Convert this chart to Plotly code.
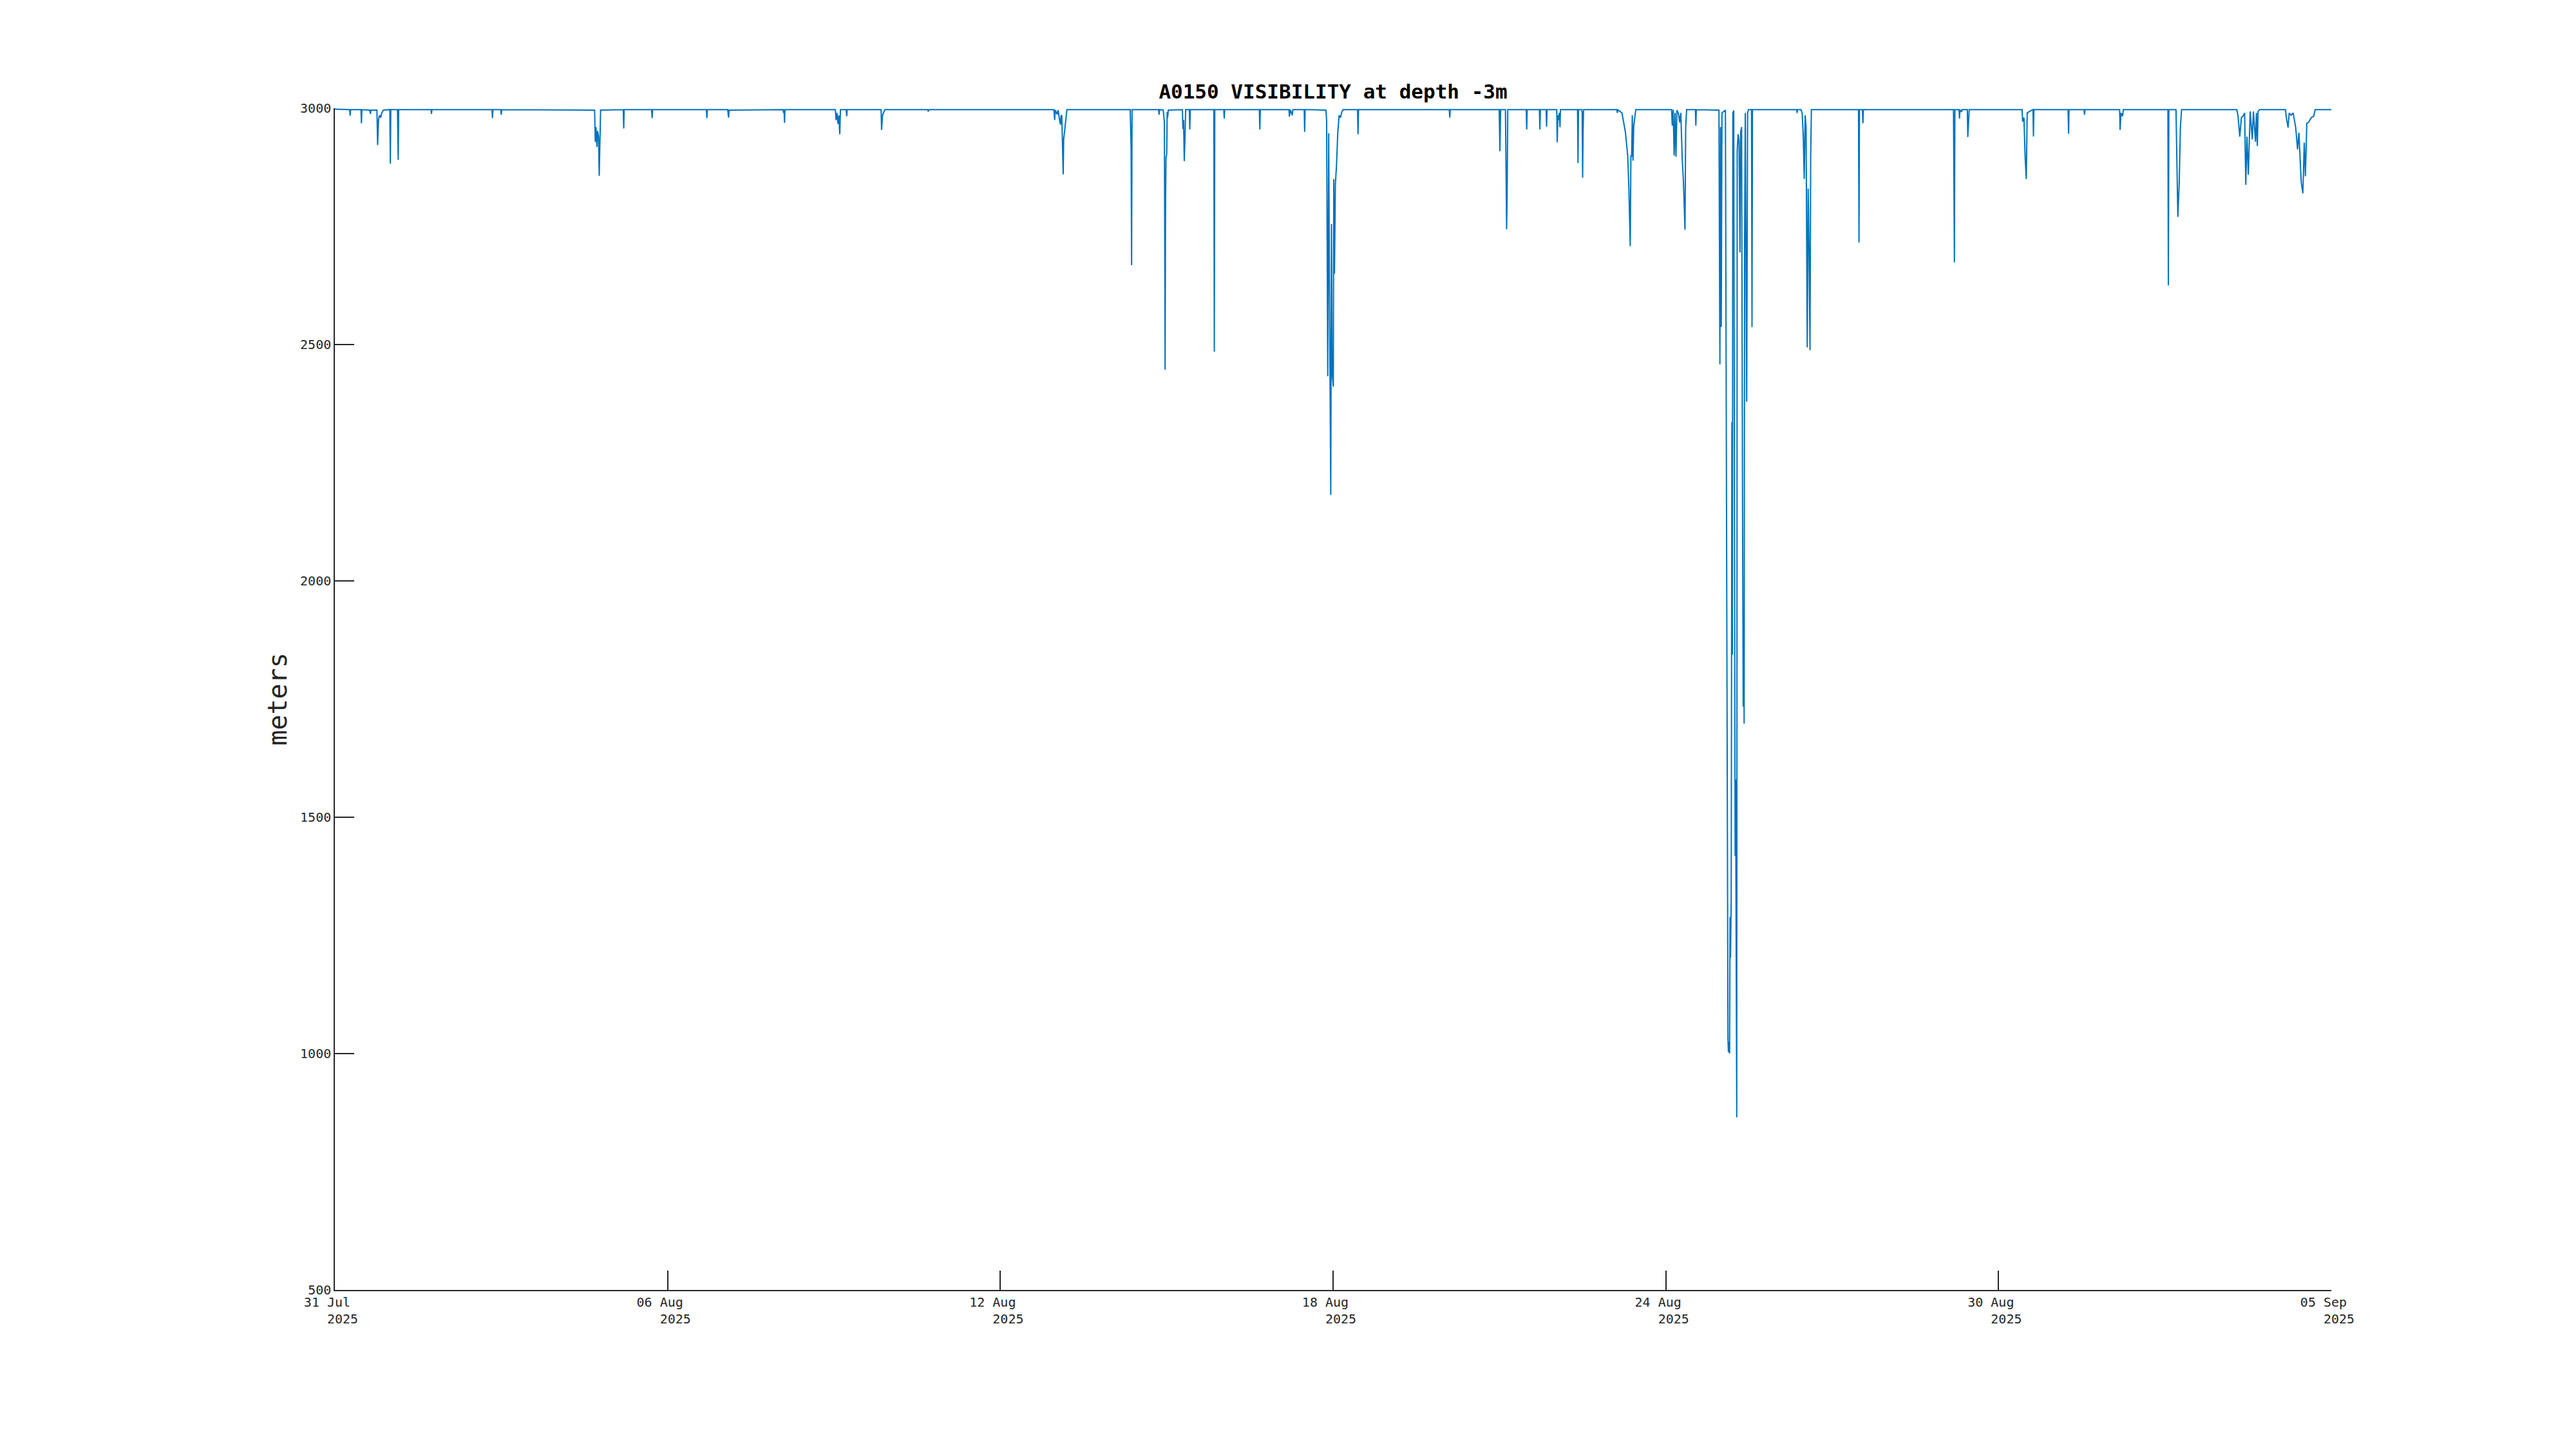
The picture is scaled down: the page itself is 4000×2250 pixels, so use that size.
import pandas as pd
import plotly.graph_objects as go

# ---- data (hours since 2025-07-31 00:00, visibility in metres) ----
series_start = "2025-07-31 00:00"

hours_since_start = [
    0.0,
    6.4, 6.6, 6.8,
    11.3, 11.5, 11.7,
    15.1, 15.4, 15.6,
    18.2, 18.5, 18.9, 19.3, 19.8, 20.3, 21.0,
    23.8, 24.0, 24.2,
    27.1, 27.3, 27.4, 27.6,
    41.6, 41.8, 42.0,
    68.0, 68.2, 68.4,
    71.8, 72.0, 72.2,
    112.4, 112.7, 113.0, 113.4, 113.7, 114.1, 114.4, 114.7, 115.0,
    124.8, 125.0, 125.2,
    137.1, 137.3, 137.5,
    160.8, 161.0, 161.2,
    170.0, 170.2, 170.4, 170.6,
    194.0, 194.2, 194.4, 194.6, 194.8,
    216.6, 216.9, 217.3, 217.7, 218.1, 218.5, 218.8,
    221.3, 221.5, 221.7,
    236.4, 236.6, 237.0, 237.5, 238.0,
    256.5, 256.8, 257.1,
    311.2, 311.5, 311.8, 312.6, 313.0, 313.6, 314.0, 314.3, 314.6, 315.2, 315.4, 315.8, 316.4, 316.8,
    344.2, 344.4, 344.6, 344.8, 345.0,
    356.5, 356.7, 356.9,
    358.5, 359.0, 359.3, 359.5, 359.7, 360.0, 360.2, 360.4, 360.7,
    366.8, 367.0, 367.3, 367.6, 367.9, 368.2,
    369.8, 370.0, 370.2,
    380.4, 380.6, 380.8,
    384.7, 384.9, 385.1,
    400.1, 400.3, 400.5,
    412.9, 413.1, 413.5, 414.3, 414.6,
    419.5, 419.7, 419.9,
    428.9, 429.2, 429.7, 429.9, 430.1, 430.4, 431.0, 431.3, 431.6, 432.1, 432.3, 432.6, 433.0, 433.5, 434.0, 434.6, 435.2, 435.8, 436.3,
    442.6, 442.8, 443.0,
    482.3, 482.5, 482.7,
    503.9, 504.2, 504.5,
    506.6, 506.9, 507.1, 507.3, 507.6,
    515.6, 515.8, 516.0,
    521.3, 521.5, 521.7,
    524.2, 524.4, 524.6,
    528.8, 529.0, 529.3, 529.6, 529.9, 530.2, 530.4,
    537.8, 538.0, 538.2,
    539.6, 539.8, 540.0, 540.2, 540.4,
    554.8, 555.0, 555.2,
    557.0, 558.5, 559.5, 560.0, 560.6, 560.9, 561.2, 561.5, 561.8, 562.1, 562.5, 563.0,
    578.5, 578.8, 579.2, 579.6, 580.0, 580.4, 580.8, 581.5, 582.0, 582.5, 583.1, 583.6, 584.3, 584.6, 585.0,
    588.8, 589.0, 589.2,
    599.0, 599.4, 599.7, 600.0, 600.3, 601.8, 602.9, 603.1, 603.4, 603.6, 603.8, 604.0, 604.3,
    604.6, 604.8, 605.0, 605.4, 605.8, 606.0, 606.2, 606.7, 606.9, 607.3, 607.7, 608.1, 608.4,
    608.8, 609.2, 609.5, 609.7, 609.9, 610.1, 610.4, 611.0, 611.4, 611.8, 613.1, 613.3, 613.5,
    632.6, 632.8, 633.0,
    634.5, 635.0, 635.5, 635.9, 636.3, 636.7, 637.2, 637.6, 638.0, 638.4, 638.7, 639.0,
    659.4, 659.6, 659.8,
    661.1, 661.3, 661.5,
    700.5, 700.9, 701.1,
    702.9, 703.1, 703.3, 704.0, 704.2,
    706.5, 706.7, 707.1, 707.3,
    730.2, 730.4, 731.0, 731.5, 732.0, 732.4, 733.7, 734.9, 735.1, 735.3,
    750.1, 750.3, 750.5,
    757.0, 757.2, 757.4,
    772.4, 772.6, 773.0, 773.7, 774.0,
    793.3, 793.5, 793.7,
    796.8, 797.0, 797.6, 798.2, 798.7, 799.2,
    823.1, 823.6, 824.4, 825.1, 825.9, 826.5, 827.0, 827.5, 828.1, 828.4, 828.9, 829.8, 830.3, 831.2, 831.6, 832.0, 832.3, 833.0,
    844.2, 844.4, 845.3, 845.8, 846.6, 847.5, 848.6, 849.4, 850.0, 850.6, 851.0, 851.7, 852.3, 852.8, 853.4, 854.2, 855.3, 856.4, 857.0,
    864.0,
]

visibility_m = [
    2998,
    2997, 2984, 2997,
    2997, 2968, 2997,
    2996, 2988, 2996,
    2996, 2922, 2975, 2985, 2980, 2990, 2996,
    2997, 2883, 2997,
    2997, 2929, 2891, 2997,
    2997, 2988, 2997,
    2997, 2979, 2997,
    2997, 2986, 2997,
    2996, 2929, 2960, 2918, 2952, 2940, 2857, 2960, 2996,
    2997, 2957, 2997,
    2997, 2979, 2997,
    2997, 2979, 2997,
    2997, 2988, 2980, 2996,
    2997, 2990, 2997, 2969, 2997,
    2997, 2975, 2990, 2967, 2985, 2945, 2997,
    2997, 2983, 2997,
    2997, 2954, 2985, 2992, 2997,
    2997, 2993, 2997,
    2997, 2975, 2996, 2987, 2996, 2976, 2965, 2985, 2984, 2860, 2934, 2950, 2975, 2997,
    2997, 2924, 2913, 2668, 2997,
    2997, 2986, 2997,
    2996, 2970, 2447, 2805, 2896, 2902, 2992, 2980, 2996,
    2997, 2956, 2975, 2888, 2936, 2997,
    2997, 2955, 2997,
    2997, 2485, 2997,
    2997, 2978, 2997,
    2997, 2955, 2997,
    2997, 2982, 2997, 2985, 2997,
    2997, 2950, 2997,
    2996, 2975, 2433, 2683, 2947, 2640, 2182, 2755, 2440, 2411, 2850, 2650, 2840, 2880, 2945, 2985, 2980, 2992, 2997,
    2997, 2945, 2997,
    2997, 2980, 2997,
    2997, 2909, 2997,
    2997, 2850, 2744, 2802, 2997,
    2997, 2955, 2997,
    2997, 2955, 2997,
    2997, 2961, 2997,
    2997, 2928, 2985, 2975, 2990, 2960, 2997,
    2997, 2884, 2997,
    2997, 2990, 2853, 2950, 2997,
    2997, 2990, 2997,
    2990, 2950, 2900, 2834, 2708, 2900, 2897, 2985, 2889, 2960, 2975, 2997,
    2997, 2963, 2997, 2900, 2990, 2897, 2996, 2988, 2970, 2990, 2893, 2847, 2743, 2960, 2997,
    2997, 2963, 2997,
    2996, 2458, 2960, 2537, 2990, 2996, 1031, 1003, 1025, 1000, 1289, 1203, 1329,
    2336, 1844, 2990, 2995, 1570, 1418, 1580, 865, 2910, 2945, 2930, 2695, 2950,
    2960, 2164, 1734, 1900, 1698, 2716, 2990, 2379, 2990, 2997, 2997, 2537, 2997,
    2997, 2990, 2997,
    2997, 2990, 2940, 2850, 2985, 2960, 2494, 2830, 2700, 2488, 2900, 2997,
    2997, 2716, 2997,
    2997, 2968, 2997,
    2997, 2674, 2997,
    2997, 2978, 2997, 2992, 2997,
    2997, 2939, 2970, 2997,
    2997, 2972, 2980, 2897, 2850, 2990, 2994, 2997, 2940, 2997,
    2997, 2946, 2997,
    2997, 2986, 2997,
    2997, 2954, 2990, 2983, 2997,
    2997, 2625, 2997,
    2997, 2934, 2770, 2843, 2960, 2997,
    2997, 2985, 2940, 2980, 2984, 2990, 2838, 2940, 2859, 2910, 2993, 2934, 2993, 2929, 2990, 2920, 2993, 2997,
    2997, 2985, 2959, 2990, 2985, 2990, 2959, 2913, 2948, 2884, 2843, 2820, 2927, 2856, 2968, 2970, 2980, 2983, 2997,
    2997,
]

x_tick_dates = ["2025-07-31", "2025-08-06", "2025-08-12", "2025-08-18",
                "2025-08-24", "2025-08-30", "2025-09-05"]
x_tick_day = ["31 Jul", "06 Aug", "12 Aug", "18 Aug", "24 Aug", "30 Aug", "05 Sep"]
x_tick_year = ["2025"] * 7
y_ticks = [500, 1000, 1500, 2000, 2500, 3000]

title_text = "A0150 VISIBILITY at depth -3m"
y_label = "meters"

assert len(hours_since_start) == len(visibility_m), (len(hours_since_start), len(visibility_m))

times = pd.Timestamp(series_start) + pd.to_timedelta(hours_since_start, unit="h")

NB = "\u00a0"
tick_text = [f"{d}{NB}{NB}<br>{NB}{NB}{NB}{y}{NB}" for d, y in zip(x_tick_day, x_tick_year)]

AX = "#262626"
MONO = "DejaVu Sans Mono"

# page body has an 8px margin: size the figure so that it fits the 4000x2250 window
FIG_W, FIG_H = 3984, 2234

fig = go.Figure()
fig.add_trace(go.Scatter(
    x=times, y=visibility_m, mode="lines",
    line=dict(color="#0072BD", width=2),
    showlegend=False,
))

fig.update_layout(
    width=FIG_W, height=FIG_H,
    paper_bgcolor="white", plot_bgcolor="white",
    margin=dict(l=512, r=FIG_W - 512 - 3100, t=160, b=FIG_H - 160 - 1835, autoexpand=False),
    title=dict(text=f"<b>{title_text}</b>", x=0.5, xref="paper", xanchor="center",
               y=1 - 134 / FIG_H, yref="container", yanchor="middle",
               font=dict(family=MONO, size=31, color="black")),
    showlegend=False,
)

fig.update_xaxes(
    range=[pd.Timestamp(x_tick_dates[0]), pd.Timestamp(x_tick_dates[-1])],
    tickmode="array", tickvals=[pd.Timestamp(d) for d in x_tick_dates], ticktext=tick_text,
    showline=True, linecolor=AX, linewidth=1.5, mirror=False,
    ticks="inside", ticklen=30, tickwidth=1.5, tickcolor=AX,
    showgrid=False, zeroline=False,
    tickfont=dict(family=MONO, size=20, color=AX),
)
fig.update_yaxes(
    range=[500, 3000],
    tickmode="array", tickvals=y_ticks, ticktext=[str(v) for v in y_ticks],
    showline=True, linecolor=AX, linewidth=1.5, mirror=False,
    ticks="inside", ticklen=30, tickwidth=1.5, tickcolor=AX,
    showgrid=False, zeroline=False,
    tickfont=dict(family=MONO, size=20, color=AX),
    title=dict(text=y_label, font=dict(family=MONO, size=40, color=AX), standoff=8),
)

fig.write_html("out.html")
